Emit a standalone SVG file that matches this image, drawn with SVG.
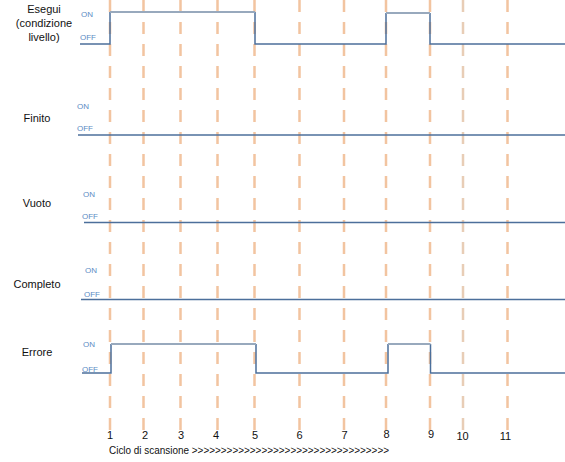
<svg xmlns="http://www.w3.org/2000/svg" width="565" height="462" viewBox="0 0 565 462">
<style>
.grid line{stroke:#F2C4A0;stroke-width:2.5;stroke-dasharray:12 10}
.lbl{font-family:"Liberation Sans",Arial,sans-serif;font-size:11px;fill:#111;text-anchor:middle}
.st{font-family:"Liberation Sans",Arial,sans-serif;font-size:8px;fill:#5B8BC4}
.num{font-family:"Liberation Sans",Arial,sans-serif;font-size:11px;fill:#111;text-anchor:middle}
.sig{fill:none;stroke:#4C6F9B;stroke-width:1.5}
.on{fill:none;stroke:#98A9BD;stroke-width:2}
</style>
<rect width="565" height="462" fill="#fff"/>
<g class="grid">
<line x1="110" y1="0" x2="110" y2="430"/>
<line x1="143.5" y1="0" x2="143.5" y2="430"/>
<line x1="180.5" y1="0" x2="180.5" y2="430"/>
<line x1="217.5" y1="0" x2="217.5" y2="430"/>
<line x1="254.5" y1="0" x2="254.5" y2="430"/>
<line x1="299.5" y1="0" x2="299.5" y2="430"/>
<line x1="344" y1="0" x2="344" y2="430"/>
<line x1="386" y1="0" x2="386" y2="430"/>
<line x1="430" y1="0" x2="430" y2="430"/>
<line x1="463" y1="0" x2="463" y2="430" style="stroke:#E8CDB6"/>
<line x1="507.5" y1="0" x2="507.5" y2="430"/>
</g>
<g id="connectors">
<path class="sig" d="M80 44H110V12M255 12V44H386V13M430 13V44H565"/>
<path class="on" d="M110 12H255M386 13H430"/>
<path class="sig" d="M78 135H565"/>
<path class="sig" d="M84 222.5H565"/>
<path class="sig" d="M81 299.5H565"/>
<path class="sig" d="M82 373H111V344M256 344V373H388V344M430.5 344V373H565"/>
<path class="on" d="M111 344H256M388 344H430.5"/>
</g>
<g id="esegui">
<text class="lbl" x="44" y="13">Esegui</text>
<text class="lbl" x="44" y="27">(condizione</text>
<text class="lbl" x="44" y="41">livello)</text>
<text class="st" x="81" y="17">ON</text>
<text class="st" x="80" y="40">OFF</text>
</g>
<g id="finito">
<text class="lbl" x="37" y="122">Finito</text>
<text class="st" x="77" y="109">ON</text>
<text class="st" x="77" y="131">OFF</text>
</g>
<g id="vuoto">
<text class="lbl" x="37" y="207">Vuoto</text>
<text class="st" x="83" y="197">ON</text>
<text class="st" x="82" y="219">OFF</text>
</g>
<g id="completo">
<text class="lbl" x="37" y="288">Completo</text>
<text class="st" x="85" y="273">ON</text>
<text class="st" x="84" y="297">OFF</text>
</g>
<g id="errore">
<text class="lbl" x="37" y="356">Errore</text>
<text class="st" x="83" y="347">ON</text>
<text class="st" x="82" y="372">OFF</text>
</g>
<g id="axis">
<text class="num" x="110" y="439">1</text>
<text class="num" x="145" y="439">2</text>
<text class="num" x="181" y="439">3</text>
<text class="num" x="216" y="439">4</text>
<text class="num" x="255" y="439">5</text>
<text class="num" x="299.5" y="439">6</text>
<text class="num" x="344.5" y="439">7</text>
<text class="num" x="386.5" y="438">8</text>
<text class="num" x="431" y="438">9</text>
<text class="num" x="462.5" y="440">10</text>
<text class="num" x="505.5" y="440">11</text>
<text x="109" y="454" font-family="'Liberation Sans',Arial,sans-serif" font-size="11" fill="#111" textLength="280" lengthAdjust="spacingAndGlyphs">Ciclo di scansione &gt;&gt;&gt;&gt;&gt;&gt;&gt;&gt;&gt;&gt;&gt;&gt;&gt;&gt;&gt;&gt;&gt;&gt;&gt;&gt;&gt;&gt;&gt;&gt;&gt;&gt;&gt;&gt;&gt;&gt;&gt;&gt;&gt;&gt;</text>
</g>
</svg>
